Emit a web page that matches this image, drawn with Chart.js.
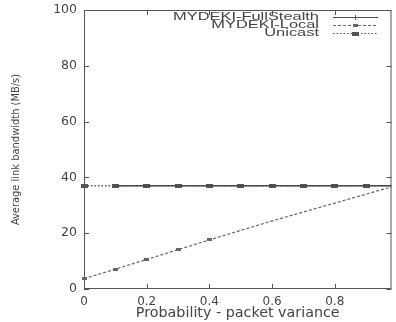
<!DOCTYPE html>
<html><head><meta charset="utf-8">
<script src="https://cdn.jsdelivr.net/npm/chart.js@4"></script>
<style>html,body{margin:0;padding:0;background:#fff;}#wrap{width:396px;height:322px;}</style>
</head><body><div id="wrap"><canvas id="c" width="396" height="322"></canvas></div>
<script>
// ---- data ----
const xValues = [0, 0.1, 0.2, 0.3, 0.4, 0.5, 0.6, 0.7, 0.8, 0.9, 1.0];
const fullStealth = [null, 37, 37, 37, 37, 37, 37, 37, 37, 37, 37];
const mydekiLocal = [3.7, 7.1, 10.6, 14.1, 17.6, 21.0, 24.4, 27.6, 30.8, 34.0, 37.2];
const unicast = [37, 37, 37, 37, 37, 37, 37, 37, 37, 37, 37];
const seriesNames = ['MYDEKI-FullStealth', 'MYDEKI-Local', 'Unicast'];
const xTicks = [0, 0.2, 0.4, 0.6, 0.8];
const yTicks = [0, 20, 40, 60, 80, 100];
const xTitle = 'Probability - packet variance';
const yTitle = 'Average link bandwidth (MB/s)';

// ---- styling ----
const INK = '#444';
function rectMarker(w, h, color) {
  const cv = document.createElement('canvas');
  cv.width = w; cv.height = h;
  const g = cv.getContext('2d');
  g.fillStyle = color; g.fillRect(0, 0, w, h);
  return cv;
}
const bigMark = rectMarker(7, 4, '#555');
const smallMark = rectMarker(5, 3, '#666');
const pts = arr => xValues.map((x, i) => ({x: x, y: arr[i]}));

const frameTicks = {
  id: 'frameTicks',
  beforeDatasetsDraw(chart) {
    const {ctx, chartArea: a, scales: {x, y}} = chart;
    ctx.save();
    ctx.strokeStyle = '#555';
    ctx.lineWidth = 1;
    ctx.strokeRect(a.left + 0.5, a.top + 0.5, a.right - a.left - 1, a.bottom - a.top - 1);
    ctx.beginPath();
    xTicks.forEach(v => {
      const px = Math.round(x.getPixelForValue(v)) + 0.5;
      ctx.moveTo(px, a.bottom); ctx.lineTo(px, a.bottom - 5);
      ctx.moveTo(px, a.top); ctx.lineTo(px, a.top + 5);
    });
    yTicks.forEach(v => {
      const py = Math.round(y.getPixelForValue(v)) + 0.5;
      ctx.moveTo(a.left, py); ctx.lineTo(a.left + 5, py);
      ctx.moveTo(a.right, py); ctx.lineTo(a.right - 5, py);
    });
    ctx.stroke();
    ctx.restore();
  }
};

const keyBox = {
  id: 'keyBox',
  afterDraw(chart) {
    const {ctx} = chart;
    ctx.save();
    ctx.font = '10.5px "Liberation Sans", Arial, sans-serif';
    ctx.fillStyle = INK;
    ctx.textBaseline = 'middle';
    const base = ctx.measureText(seriesNames[0]).width;
    const sx = 146 / base;
    const rows = [17, 25, 33];
    const textRight = 319;
    chart.data.datasets.forEach((ds, i) => {
      const yy = rows[i];
      ctx.save();
      ctx.translate(textRight, yy);
      ctx.scale(sx, 1);
      ctx.textAlign = 'right';
      ctx.fillText(ds.label, 0, 0);
      ctx.restore();
      ctx.save();
      ctx.strokeStyle = ds.borderColor;
      ctx.lineWidth = 1;
      ctx.setLineDash(ds.borderDash || []);
      ctx.beginPath();
      ctx.moveTo(333, yy + 0.5); ctx.lineTo(378, yy + 0.5);
      ctx.stroke();
      ctx.restore();
      if (i === 0) {
        ctx.strokeStyle = '#555'; ctx.lineWidth = 1;
        ctx.beginPath(); ctx.moveTo(355.5, yy - 2); ctx.lineTo(355.5, yy + 3); ctx.stroke();
      } else {
        ctx.drawImage(i === 1 ? smallMark : bigMark, i === 1 ? 353 : 352, yy - 1);
      }
    });
    ctx.restore();
  }
};

new Chart(document.getElementById('c'), {
  type: 'line',
  data: {
    datasets: [
      {label: seriesNames[0], data: pts(fullStealth), borderColor: '#4a4a4a', borderWidth: 1.5,
       pointStyle: 'line', pointRadius: 0, clip: {left: 6, top: 6, bottom: 6, right: 0}},
      {label: seriesNames[1], data: pts(mydekiLocal), borderColor: '#666', borderWidth: 1.2, borderDash: [3, 2],
       pointStyle: smallMark, pointRadius: [3, 3, 3, 3, 3, 0, 0, 0, 0, 0, 0], clip: {left: 6, top: 6, bottom: 6, right: 0}},
      {label: seriesNames[2], data: pts(unicast), borderColor: '#555', borderWidth: 1.5, borderDash: [1.5, 2],
       pointStyle: bigMark, pointRadius: 3, clip: {left: 6, top: 6, bottom: 6, right: 0}}
    ]
  },
  options: {
    responsive: false,
    animation: false,
    devicePixelRatio: 1,
    layout: {padding: {top: 10, right: 1, left: 0, bottom: 0}},
    plugins: {legend: {display: false}, tooltip: {enabled: false}},
    elements: {line: {tension: 0}, point: {hoverRadius: 0}},
    scales: {
      x: {
        type: 'linear', min: 0, max: 0.981,
        afterBuildTicks: s => { s.ticks = xTicks.map(v => ({value: v})); },
        afterFit: s => { s.height = 33; s.paddingLeft = 0; s.paddingRight = 0; },
        grid: {display: false, drawTicks: false},
        border: {display: false},
        ticks: {padding: 6, color: INK, font: {family: '"DejaVu Sans", sans-serif', size: 12},
                maxRotation: 0, callback: v => String(+v.toFixed(1))},
        title: {display: true, text: xTitle, color: INK, padding: {top: 0, bottom: 0},
                font: {family: '"DejaVu Sans", sans-serif', size: 14.3}}
      },
      y: {
        type: 'linear', min: 0, max: 100,
        afterBuildTicks: s => { s.ticks = yTicks.map(v => ({value: v})); },
        afterFit: s => { s.width = 84; s.paddingTop = 0; s.paddingBottom = 0; },
        grid: {display: false, drawTicks: false},
        border: {display: false},
        ticks: {padding: 7, color: INK, font: {family: '"DejaVu Sans", sans-serif', size: 12.5}},
        title: {display: true, text: yTitle, color: INK, padding: {top: 10, bottom: 0},
                font: {family: '"Liberation Sans Narrow", "DejaVu Sans Condensed", sans-serif', size: 11}}
      }
    }
  },
  plugins: [frameTicks, keyBox]
});
</script>
</body></html>
